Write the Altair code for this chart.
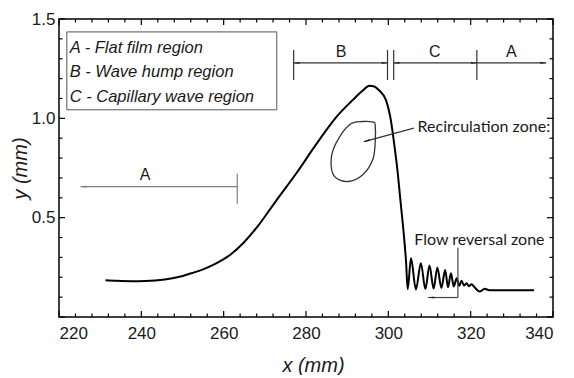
import altair as alt
import pandas as pd

# ---------------- data ----------------
prof_x = [231.3, 234.0, 237.6, 241.0, 245.7, 249.0, 252.1, 255.0, 257.7, 261.7, 264.9, 268.1,
          272.9, 277.7, 282.5, 287.3, 291.4, 293.8, 295.4, 296.6, 297.8, 299.4, 300.6, 301.4,
          302.2, 303.0, 303.8, 304.3, 304.7, 305.5, 306.7, 307.9, 309.0, 310.0, 311.0, 311.9,
          312.9, 313.8, 314.5, 315.2, 315.9, 316.6, 317.2, 317.8, 318.4, 319.0, 319.6, 320.2,
          321.0, 322.2, 323.4, 324.5, 335.4]
prof_y = [0.185, 0.182, 0.180, 0.181, 0.189, 0.201, 0.220, 0.240, 0.265, 0.315, 0.375, 0.452,
          0.590, 0.725, 0.870, 1.005, 1.093, 1.140, 1.164, 1.160, 1.140, 1.093, 0.992, 0.875,
          0.741, 0.574, 0.406, 0.280, 0.140, 0.296, 0.139, 0.271, 0.141, 0.259, 0.143, 0.249,
          0.146, 0.237, 0.150, 0.220, 0.154, 0.195, 0.157, 0.182, 0.158, 0.170, 0.155, 0.165,
          0.148, 0.128, 0.142, 0.135, 0.135]

loop_x = [296.3, 293.8, 290.5, 287.3, 286.1, 286.9, 290.2, 293.8, 296.2, 296.8, 296.8]
loop_y = [0.981, 0.984, 0.967, 0.875, 0.791, 0.708, 0.682, 0.716, 0.791, 0.875, 0.967]

x_major = [220, 240, 260, 280, 300, 320, 340]
x_minor = [224, 228, 232, 236, 244, 248, 252, 256, 264, 268, 272, 276, 284, 288, 292, 296,
           304, 308, 312, 316, 324, 328, 332, 336]
y_labels = [0.5, 1.0, 1.5]
y_major = [0.0, 0.5, 1.0, 1.5]
y_minor = [0.1, 0.2, 0.3, 0.4, 0.6, 0.7, 0.8, 0.9, 1.1, 1.2, 1.3, 1.4]

legend_lines = ["A - Flat film region", "B - Wave hump region", "C - Capillary wave region"]
legend_line_y = [1.354, 1.234, 1.108]
legend_box = {"x": 221.9, "x2": 272.9, "y": 1.435, "y2": 1.043}
legend_text_x = 222.6

# annotation segments (x, x2, y, y2, colour)
seg_x = [263.3, 263.3, 277.0, 299.8, 301.3, 321.5, 277.0, 301.3, 321.5, 316.9, 316.9, 306.2]
seg_x2 = [225.3, 263.3, 277.0, 299.8, 301.3, 321.5, 299.8, 321.5, 338.3, 316.9, 309.7, 294.1]
seg_y = [0.656, 0.570, 1.193, 1.193, 1.193, 1.193, 1.279, 1.279, 1.279, 0.349, 0.098, 0.951]
seg_y2 = [0.656, 0.721, 1.344, 1.344, 1.344, 1.344, 1.279, 1.279, 1.279, 0.098, 0.098, 0.883]
seg_c = ["#808080", "#808080", "#333333", "#333333", "#333333", "#333333", "#333333",
         "#333333", "#333333", "#444444", "#444444", "#333333"]

# arrowheads
al_x = [225.3, 277.0, 301.3, 309.7]
al_y = [0.656, 1.279, 1.279, 0.098]
al_c = ["#808080", "#333333", "#333333", "#333333"]
ar_x = [299.8, 321.5, 338.3]
ar_y = [1.279, 1.279, 1.279]
rc_x = [294.1]
rc_y = [0.883]

region_labels = ["A", "B", "C", "A"]
region_x = [240.9, 288.5, 311.3, 329.9]
region_y = [0.716, 1.334, 1.334, 1.334]

note_text = ["Recirculation zone:", "Flow reversal zone"]
note_x = [307.1, 306.3]
note_y = [0.957, 0.389]

# ---------------- chart ----------------
W, H = 494, 298
xs = alt.Scale(domain=[220, 340], nice=False, zero=False)
ys = alt.Scale(domain=[0, 1.5], nice=False, zero=False)
FONT = "Liberation Sans"
NOTE_FONT = "Lato"

prof = pd.DataFrame({"x": prof_x, "y": prof_y})
loop = pd.DataFrame({"x": loop_x, "y": loop_y, "i": list(range(len(loop_x)))})
segs = pd.DataFrame({"x": seg_x, "x2": seg_x2, "y": seg_y, "y2": seg_y2, "c": seg_c})

profile = alt.Chart(prof).mark_line(color="black", strokeWidth=2, interpolate="monotone").encode(
    x=alt.X("x:Q", scale=xs, axis=alt.Axis(values=x_major, format="d", title="x (mm)",
                                              orient="bottom", labels=True,
                                              titleX=254, titleY=48, titleBaseline="middle",
                                              titleAlign="center", labelPadding=8)),
    y=alt.Y("y:Q", scale=ys, axis=alt.Axis(values=y_labels, format=".1f", title="y (mm)",
                                              orient="left", labels=True,
                                              titleX=-39, titleY=H / 2, titleAngle=270,
                                              titleBaseline="middle", titleAlign="center",
                                              labelPadding=4)),
)

loop_line = alt.Chart(loop).mark_line(color="#333333", strokeWidth=1.3,
                                      interpolate="cardinal-closed").encode(
    x=alt.X("x:Q", scale=xs, axis=None), y=alt.Y("y:Q", scale=ys, axis=None), order="i:Q")

box = alt.Chart(pd.DataFrame([legend_box])).mark_rect(fill="white", stroke="#555555",
                                                       strokeWidth=1).encode(
    x=alt.X("x:Q", scale=xs, axis=None), x2="x2:Q",
    y=alt.Y("y:Q", scale=ys, axis=None), y2="y2:Q")

legend_txt = alt.Chart(pd.DataFrame({"t": legend_lines, "y": legend_line_y,
                                     "x": [legend_text_x] * 3})).mark_text(
    font=FONT, fontSize=16.5, fontStyle="italic", align="left", baseline="middle",
    color="#1a1a1a").encode(
    x=alt.X("x:Q", scale=xs, axis=None), y=alt.Y("y:Q", scale=ys, axis=None), text="t:N")

seg_layer = alt.Chart(segs).mark_rule(strokeWidth=1.2).encode(
    x=alt.X("x:Q", scale=xs, axis=None), x2="x2:Q",
    y=alt.Y("y:Q", scale=ys, axis=None), y2="y2:Q",
    color=alt.Color("c:N", scale=None))

arr_left = alt.Chart(pd.DataFrame({"x": al_x, "y": al_y, "c": al_c})).mark_point(
    shape="wedge", filled=True, size=70, opacity=1, angle=270, xOffset=3.5).encode(
    x=alt.X("x:Q", scale=xs, axis=None), y=alt.Y("y:Q", scale=ys, axis=None),
    color=alt.Color("c:N", scale=None))
arr_right = alt.Chart(pd.DataFrame({"x": ar_x, "y": ar_y})).mark_point(
    shape="wedge", filled=True, size=70, opacity=1, angle=90, xOffset=-3.5,
    color="#333333").encode(
    x=alt.X("x:Q", scale=xs, axis=None), y=alt.Y("y:Q", scale=ys, axis=None))
arr_rc = alt.Chart(pd.DataFrame({"x": rc_x, "y": rc_y})).mark_point(
    shape="wedge", filled=True, size=70, opacity=1, angle=254, xOffset=3.4, yOffset=-1,
    color="#222222").encode(
    x=alt.X("x:Q", scale=xs, axis=None), y=alt.Y("y:Q", scale=ys, axis=None))

reg_txt = alt.Chart(pd.DataFrame({"t": region_labels, "x": region_x, "y": region_y})).mark_text(
    font=FONT, fontSize=16, baseline="middle", align="center", color="#1a1a1a").encode(
    x=alt.X("x:Q", scale=xs, axis=None), y=alt.Y("y:Q", scale=ys, axis=None), text="t:N")

note_txt = alt.Chart(pd.DataFrame({"t": note_text, "x": note_x, "y": note_y})).mark_text(
    font=NOTE_FONT, fontSize=16, baseline="middle", align="left", color="#1a1a1a").encode(
    x=alt.X("x:Q", scale=xs, axis=None), y=alt.Y("y:Q", scale=ys, axis=None), text="t:N")


def xticks(vals, L, top):
    return alt.Chart(pd.DataFrame({"v": vals})).mark_rule(color="black", strokeWidth=1.2).encode(
        x=alt.X("v:Q", scale=xs, axis=None),
        y=alt.value(0 if top else H), y2=alt.value(L if top else H - L))


def yticks(vals, L, right):
    return alt.Chart(pd.DataFrame({"v": vals})).mark_rule(color="black", strokeWidth=1.2).encode(
        y=alt.Y("v:Q", scale=ys, axis=None),
        x=alt.value(W if right else 0), x2=alt.value(W - L if right else L))


ticks = [xticks(x_major, 6, False), xticks(x_minor, 3.5, False),
         xticks(x_major, 6, True), xticks(x_minor, 3.5, True),
         yticks(y_major, 6, False), yticks(y_minor, 3.5, False),
         yticks(y_major, 6, True), yticks(y_minor, 3.5, True)]

chart = alt.layer(profile, box, legend_txt, seg_layer, arr_left, arr_right, arr_rc,
                  reg_txt, note_txt, loop_line, *ticks).resolve_axis(
    x="independent", y="independent"
).properties(
    width=W, height=H,
    autosize=alt.AutoSizeParams(type="none"),
    padding={"left": 51, "top": 11, "right": 13, "bottom": 58},
    background="white",
).configure_view(stroke="black", strokeWidth=1.5).configure_axis(
    grid=False, domain=False, ticks=False,
    labelFont=FONT, labelFontSize=17, labelColor="#1a1a1a",
    titleFont=FONT, titleFontSize=20, titleFontStyle="italic", titleFontWeight="normal",
    titleColor="#1a1a1a",
)

chart.save("out.html", embed_options={"renderer": "svg", "actions": False})
